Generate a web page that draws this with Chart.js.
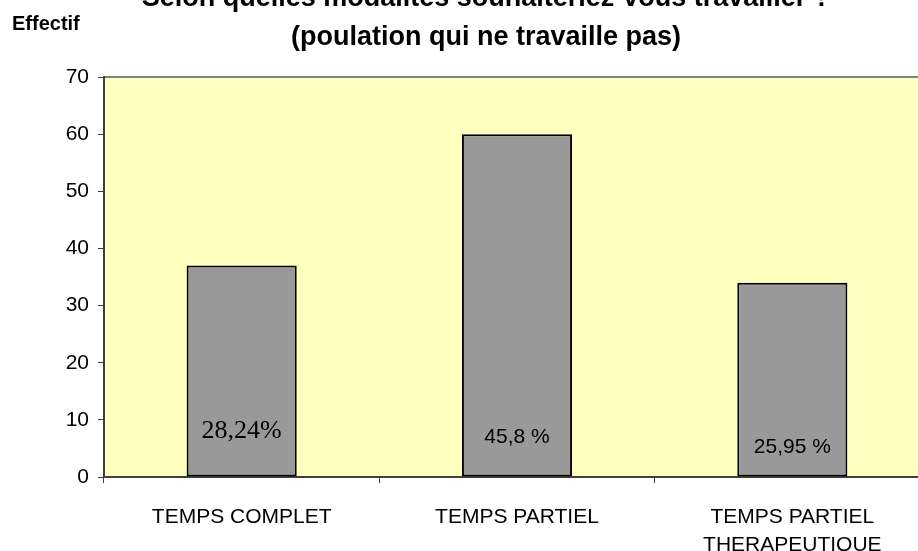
<!DOCTYPE html>
<html>
<head>
<meta charset="utf-8">
<script src="https://cdn.jsdelivr.net/npm/chart.js@4.4.1/dist/chart.umd.min.js"></script>
<style>
  html, body { margin: 0; padding: 0; background: #fff; overflow: hidden; }
  #chart { display: block; }
</style>
</head>
<body>
<canvas id="chart" width="968" height="551"></canvas>
<script>
// data
const categories = ['TEMPS COMPLET', 'TEMPS PARTIEL', ['TEMPS PARTIEL', 'THERAPEUTIQUE']];
const effectifs = [37, 60, 34];
const percentLabels = ['28,24%', '45,8 %', '25,95 %'];
const yTicks = [0, 10, 20, 30, 40, 50, 60, 70];
const titleLines = ['Selon quelles modalités souhaiteriez-vous travailler ?', '(poulation qui ne travaille pas)'];
const yAxisName = 'Effectif';

// label styles (the first label uses a serif face like the original)
const sans = 'Arial, "Liberation Sans", sans-serif';
const percentFonts = ['26px "Liberation Serif", "Times New Roman", serif', '21px ' + sans, '21px ' + sans];
const percentLift = [39, 34, 24];

const plotBackground = {
  id: 'plotBackground',
  beforeDraw(chart) {
    const { ctx, chartArea: a } = chart;
    ctx.save();
    ctx.fillStyle = '#FFFFC0';
    ctx.fillRect(a.left, a.top, a.right - a.left, a.bottom - a.top);
    ctx.strokeStyle = '#808080';
    ctx.lineWidth = 2;
    ctx.beginPath();
    ctx.moveTo(a.left, a.top);
    ctx.lineTo(a.right, a.top);
    ctx.lineTo(a.right, a.bottom);
    ctx.stroke();
    ctx.restore();
  }
};

const texts = {
  id: 'texts',
  afterDraw(chart) {
    const { ctx } = chart;
    ctx.save();
    ctx.fillStyle = '#000';
    ctx.textAlign = 'center';
    ctx.textBaseline = 'alphabetic';
    ctx.font = 'bold 27px ' + sans;
    titleLines.forEach((t, i) => ctx.fillText(t, 486, 5.5 + i * 39.5));

    ctx.textAlign = 'left';
    ctx.font = 'bold 20px ' + sans;
    ctx.fillText(yAxisName, 12, 30);

    const meta = chart.getDatasetMeta(0);
    ctx.textAlign = 'center';
    meta.data.forEach((bar, i) => {
      ctx.font = percentFonts[i];
      ctx.fillText(percentLabels[i], bar.x, bar.base - percentLift[i]);
    });
    ctx.restore();
  }
};

new Chart(document.getElementById('chart'), {
  type: 'bar',
  data: {
    labels: categories,
    datasets: [{
      data: effectifs,
      backgroundColor: '#999999',
      borderColor: '#000000',
      borderWidth: 2,
      borderSkipped: false,
      barPercentage: 0.4,
      categoryPercentage: 1.0
    }]
  },
  options: {
    responsive: false,
    animation: false,
    devicePixelRatio: 1,
    layout: { padding: { top: 77, right: 38, left: 0, bottom: 0 } },
    plugins: {
      legend: { display: false },
      tooltip: { enabled: false },
      title: { display: false }
    },
    scales: {
      x: {
        afterFit(scale) { scale.height = 74; },
        grid: {
          offset: true,
          drawOnChartArea: false,
          tickLength: 6,
          tickColor: '#404040'
        },
        border: { color: '#404040', width: 2 },
        ticks: {
          color: '#000',
          padding: 20,
          font: { family: sans, size: 21, lineHeight: 1.33 }
        }
      },
      y: {
        min: 0,
        max: 70,
        afterFit(scale) { scale.width = 104; },
        afterBuildTicks(scale) { scale.ticks = yTicks.map(v => ({ value: v })); },
        grid: {
          drawOnChartArea: false,
          tickLength: 6,
          tickColor: '#404040'
        },
        border: { color: '#404040', width: 2 },
        ticks: {
          color: '#000',
          padding: 9,
          font: { family: sans, size: 21 }
        }
      }
    }
  },
  plugins: [plotBackground, texts]
});
</script>
</body>
</html>
